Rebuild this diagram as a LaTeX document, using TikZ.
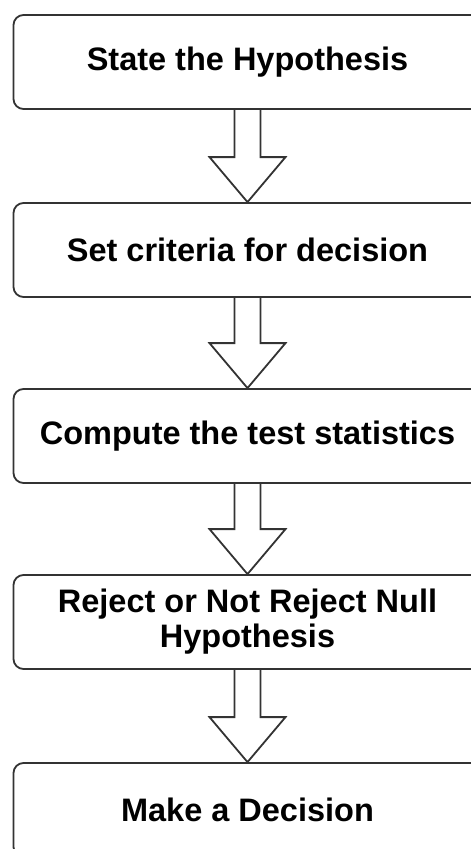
\documentclass[tikz,border=0pt]{standalone}
\usepackage{fontspec}
\setmainfont{Liberation Sans}
\usetikzlibrary{calc}
\definecolor{edge}{HTML}{333333}
\tikzset{
  stepbox/.style={draw=edge, line width=1.8pt, rounded corners=10pt, fill=white,
    minimum width=468pt, minimum height=94pt, inner sep=0pt, align=center,
    font=\fontsize{32.5}{35}\selectfont\bfseries, text=black},
  bigarrow/.style={draw=edge, line width=1.8pt, line join=miter}
}
\newcommand{\flowarrow}[2]{%
  \draw[bigarrow] ($(#1.south)+(-13pt,0)$) -- ($(#2.north)+(-13pt,45pt)$)
    -- ($(#2.north)+(-38pt,45pt)$) -- (#2.north) -- ($(#2.north)+(38pt,45pt)$)
    -- ($(#2.north)+(13pt,45pt)$) -- ($(#1.south)+(13pt,0)$);}
\begin{document}
\begin{tikzpicture}[x=1pt,y=1pt]
\useasboundingbox (0,0) rectangle (471,-849);
\node[stepbox] (s1) at (247.5,-62) {State the Hypothesis};
\node[stepbox] (s2) at (247.5,-250) {Set criteria for decision};
\node[stepbox] (s3) at (247.5,-436) {Compute the test statistics};
\node[stepbox] (s4) at (247.5,-622) {Reject or Not Reject Null\\Hypothesis};
\node[stepbox] (s5) at (247.5,-810) {Make a Decision};
\flowarrow{s1}{s2}
\flowarrow{s2}{s3}
\flowarrow{s3}{s4}
\flowarrow{s4}{s5}
\end{tikzpicture}
\end{document}
